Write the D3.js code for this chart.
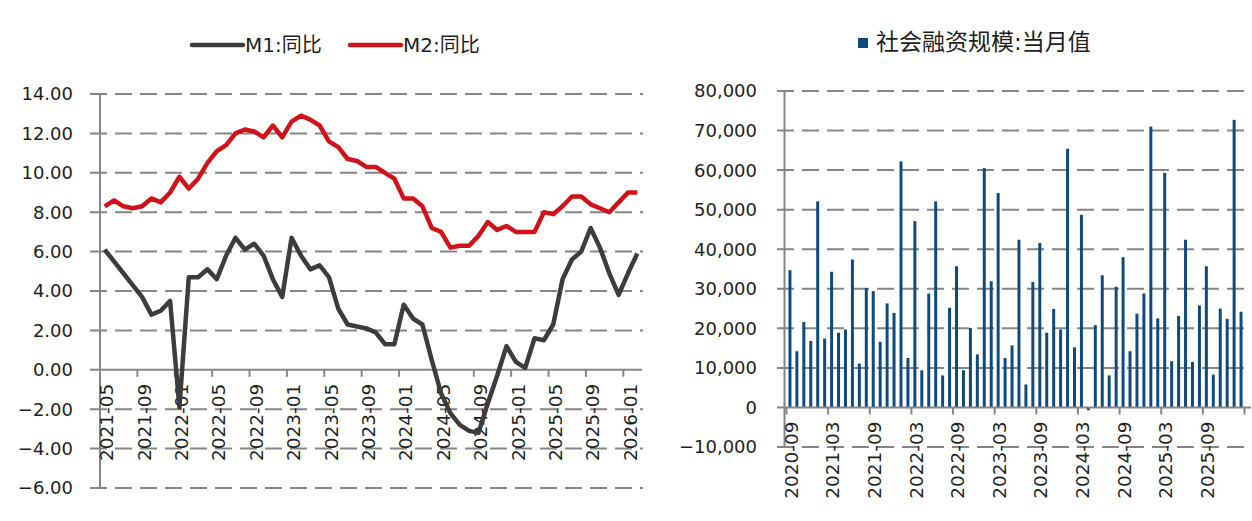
<!DOCTYPE html>
<html>
<head>
<meta charset="utf-8">
<script src="https://cdn.jsdelivr.net/npm/d3@7"></script>
<style>
  body { margin: 0; background: #fff; }
  text { font-family: "DejaVu Sans", "Noto Sans CJK SC", sans-serif; fill: #1e1e1e; }
</style>
</head>
<body>
<div id="chart"></div>
<script>
// left chart: M1 / M2 yoy, 2021-05 .. 2026-02
const m1 = [6.1, 5.5, 4.9, 4.3, 3.7, 2.8, 3.0, 3.5,
  -1.9, 4.7, 4.7, 5.1, 4.6, 5.8, 6.7, 6.1, 6.4, 5.8, 4.6, 3.7,
  6.7, 5.8, 5.1, 5.3, 4.7, 3.1, 2.3, 2.2, 2.1, 1.9, 1.3, 1.3,
  3.3, 2.6, 2.3, 0.5, -1.2, -2.2, -2.8, -3.1, -3.2, -1.7, -0.3, 1.2,
  0.4, 0.1, 1.6, 1.5, 2.3, 4.6, 5.6, 6.0, 7.2, 6.2, 4.9, 3.8,
  4.9, 5.9];
const m2 = [8.3, 8.6, 8.3, 8.2, 8.3, 8.7, 8.5, 9.0,
  9.8, 9.2, 9.7, 10.5, 11.1, 11.4, 12.0, 12.2, 12.1, 11.8, 12.4, 11.8,
  12.6, 12.9, 12.7, 12.4, 11.6, 11.3, 10.7, 10.6, 10.3, 10.3, 10.0, 9.7,
  8.7, 8.7, 8.3, 7.2, 7.0, 6.2, 6.3, 6.3, 6.8, 7.5, 7.1, 7.3,
  7.0, 7.0, 7.0, 8.0, 7.9, 8.3, 8.8, 8.8, 8.4, 8.2, 8.0, 8.5,
  9.0, 9.0];
const leftTicks = ["2021-05", "2021-09", "2022-01", "2022-05", "2022-09", "2023-01", "2023-05",
  "2023-09", "2024-01", "2024-05", "2024-09", "2025-01", "2025-05", "2025-09", "2026-01"];
const leftYTicks = [-6, -4, -2, 0, 2, 4, 6, 8, 10, 12, 14];

// right chart: 社会融资规模 当月值 (亿元), 2020-09 .. 2026-02
const tsf = [34700, 14200, 21600, 16800,
  52100, 17400, 34300, 18900, 19700, 37400, 11100, 30200, 29400, 16600, 26300, 23900,
  62200, 12500, 47100, 9400, 28800, 52100, 8100, 25200, 35700, 9400, 20100, 13400,
  60500, 31900, 54200, 12500, 15700, 42400, 5800, 31700, 41600, 18900, 24900, 19700,
  65400, 15200, 48700, -700, 20800, 33400, 8100, 30500, 38000, 14200, 23700, 28800,
  71000, 22500, 59300, 11700, 23100, 42400, 11500, 25800, 35700, 8300, 25000, 22400,
  72700, 24200];
const rightTicks = ["2020-09", "2021-03", "2021-09", "2022-03", "2022-09", "2023-03",
  "2023-09", "2024-03", "2024-09", "2025-03", "2025-09"];
const rightYTicks = [-10000, 0, 10000, 20000, 30000, 40000, 50000, 60000, 70000, 80000];

const fmtMonth = d3.utcFormat("%Y-%m");
const leftMonths = d3.utcMonth.range(new Date(Date.UTC(2021, 4, 1)), new Date(Date.UTC(2026, 2, 1))).map(fmtMonth);
const rightMonths = d3.utcMonth.range(new Date(Date.UTC(2020, 8, 1)), new Date(Date.UTC(2026, 2, 1))).map(fmtMonth);

const svg = d3.select("#chart").append("svg")
  .attr("width", 1252)
  .attr("height", 521);

const gridColor = "#858585";
const dash = "17,8";

// ---------- left chart ----------
const xL = d3.scaleBand().domain(leftMonths).range([100, 642]);
const yL = d3.scaleLinear().domain([-6, 14]).range([488, 94]);
const gL = svg.append("g");

gL.selectAll(".grid")
  .data(leftYTicks.filter(d => d !== 0))
  .enter().append("line")
  .attr("x1", 90).attr("x2", 643)
  .attr("y1", d => yL(d)).attr("y2", d => yL(d))
  .attr("stroke", gridColor).attr("stroke-width", 2)
  .attr("stroke-dasharray", dash);

gL.append("line")
  .attr("x1", 90).attr("x2", 642)
  .attr("y1", yL(0)).attr("y2", yL(0))
  .attr("stroke", gridColor).attr("stroke-width", 2);

gL.append("line")
  .attr("x1", 100).attr("x2", 100)
  .attr("y1", yL(14)).attr("y2", yL(-6))
  .attr("stroke", gridColor).attr("stroke-width", 2);

gL.selectAll(".ylab")
  .data(leftYTicks)
  .enter().append("text")
  .attr("x", 73).attr("y", d => yL(d))
  .attr("dy", "0.36em")
  .attr("text-anchor", "end")
  .style("font-size", "18px")
  .text(d => d3.format(".2f")(d));

gL.selectAll(".xtick")
  .data(leftTicks)
  .enter().append("line")
  .attr("x1", d => xL(d)).attr("x2", d => xL(d))
  .attr("y1", yL(0)).attr("y2", yL(0) + 7)
  .attr("stroke", gridColor).attr("stroke-width", 2);

gL.selectAll(".xlab")
  .data(leftTicks)
  .enter().append("text")
  .attr("transform", d => `translate(${xL(d) + xL.bandwidth() / 2 + 2},${yL(0) + 14}) rotate(-90)`)
  .attr("dy", "0.36em")
  .attr("text-anchor", "end")
  .style("font-size", "18.5px")
  .text(d => d);

const lineL = vals => d3.line()
  .x((d, i) => xL(leftMonths[i]) + xL.bandwidth() / 2)
  .y(d => yL(d))(vals);

gL.append("path")
  .attr("d", lineL(m2))
  .attr("fill", "none").attr("stroke", "#d0121b")
  .attr("stroke-width", 4.5).attr("stroke-linejoin", "round");

gL.append("path")
  .attr("d", lineL(m1))
  .attr("fill", "none").attr("stroke", "#3c3c3c")
  .attr("stroke-width", 4.5).attr("stroke-linejoin", "round");

// legend
const legL = [
  { name: "M1:同比", color: "#3c3c3c", x: 192 },
  { name: "M2:同比", color: "#d0121b", x: 350 }
];
legL.forEach(d => {
  gL.append("line")
    .attr("x1", d.x).attr("x2", d.x + 51)
    .attr("y1", 45).attr("y2", 45)
    .attr("stroke", d.color).attr("stroke-width", 4.5)
    .attr("stroke-linecap", "round");
  gL.append("text")
    .attr("x", d.x + 53).attr("y", 45)
    .attr("dy", "0.36em")
    .style("font-size", "20px")
    .text(d.name);
});

// ---------- right chart ----------
const xR = d3.scaleBand().domain(rightMonths).range([784.5, 1246.5]).padding(0.57);
const yR = d3.scaleLinear().domain([-10000, 80000]).range([447, 91]);
const gR = svg.append("g");

gR.selectAll(".grid")
  .data(rightYTicks.filter(d => d !== 0))
  .enter().append("line")
  .attr("x1", 777).attr("x2", 1251)
  .attr("y1", d => yR(d)).attr("y2", d => yR(d))
  .attr("stroke", gridColor).attr("stroke-width", 2)
  .attr("stroke-dasharray", dash);

gR.selectAll(".bar")
  .data(tsf)
  .enter().append("rect")
  .attr("x", (d, i) => xR(rightMonths[i]))
  .attr("width", xR.bandwidth())
  .attr("y", d => yR(Math.max(0, d)))
  .attr("height", d => Math.abs(yR(d) - yR(0)))
  .attr("fill", "#0f4a7c");

gR.append("line")
  .attr("x1", 777).attr("x2", 1251)
  .attr("y1", yR(0)).attr("y2", yR(0))
  .attr("stroke", gridColor).attr("stroke-width", 2);

gR.append("line")
  .attr("x1", 784.5).attr("x2", 784.5)
  .attr("y1", yR(80000)).attr("y2", yR(-10000))
  .attr("stroke", gridColor).attr("stroke-width", 2);

const step = xR.step();
const rTickX = rightTicks.map(d => xR(d) - (step - xR.bandwidth()) / 2);
rTickX.push(rTickX[0] + step * rightMonths.length);
gR.selectAll(".xtick")
  .data(rTickX)
  .enter().append("line")
  .attr("x1", d => d).attr("x2", d => d)
  .attr("y1", yR(0)).attr("y2", yR(0) + 7)
  .attr("stroke", gridColor).attr("stroke-width", 2);

gR.selectAll(".ylab")
  .data(rightYTicks)
  .enter().append("text")
  .attr("x", 757).attr("y", d => yR(d))
  .attr("dy", "0.36em")
  .attr("text-anchor", "end")
  .style("font-size", "18px")
  .text(d => d3.format(",")(d));

gR.selectAll(".xlab")
  .data(rightTicks)
  .enter().append("text")
  .attr("transform", d => `translate(${xR(d) + xR.bandwidth() / 2 + 1},${yR(0) + 14}) rotate(-90)`)
  .attr("dy", "0.36em")
  .attr("text-anchor", "end")
  .style("font-size", "18.5px")
  .text(d => d);

gR.append("rect")
  .attr("x", 858).attr("y", 38)
  .attr("width", 10).attr("height", 10)
  .attr("fill", "#0f4a7c");
gR.append("text")
  .attr("x", 876).attr("y", 42)
  .attr("dy", "0.36em")
  .style("font-size", "23px")
  .text("社会融资规模:当月值");
</script>
</body>
</html>
